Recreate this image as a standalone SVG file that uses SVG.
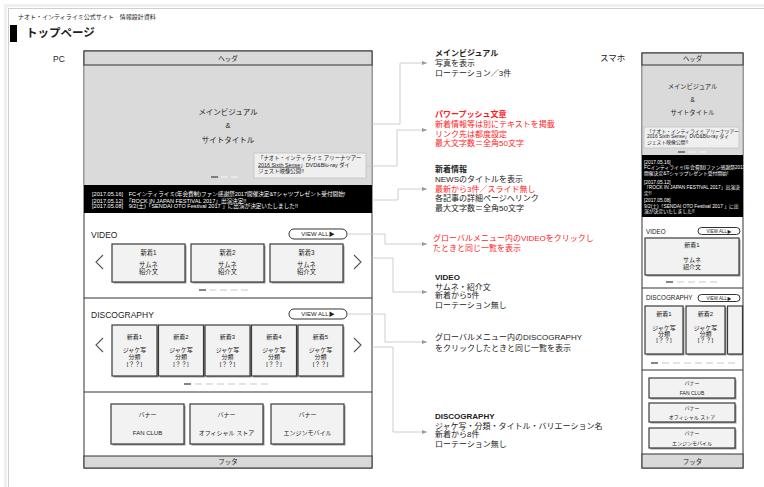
<svg xmlns="http://www.w3.org/2000/svg" width="764" height="487" viewBox="0 0 764 487">
<style>
text{font-family:"Liberation Sans","Noto Sans CJK JP",sans-serif;fill:#222}
.c{text-anchor:middle}
.w{fill:#fff}
.b{font-weight:bold}
.r{fill:#ff1a1a}
.frame{fill:#fff;stroke:#333;stroke-width:1}
.bar{fill:#d9d9d9;stroke:#333;stroke-width:1}
.hero{fill:#dadada}
.news{fill:#000}
.div{stroke:#333;stroke-width:1}
.card{fill:#f2f2f2;stroke:#3a3a3a;stroke-width:1.2}
.sh{fill:#9a9a9a}
.cap{fill:#efefef;stroke:#c4c4c4;stroke-width:0.8}
.pill{fill:#fff;stroke:#333;stroke-width:1}
.chev{fill:none;stroke:#555;stroke-width:1.1}
.dk{stroke:#666;stroke-width:1.6}
.lt{stroke:#dcdcdc;stroke-width:1.6}
.lt2{stroke:#ececec;stroke-width:1.6}
.con{fill:none;stroke:#c2c2c2;stroke-width:0.8}
</style>
<defs>
<marker id="arr" markerWidth="5" markerHeight="4" refX="5" refY="2" orient="auto" markerUnits="userSpaceOnUse">
<path d="M0,0 L5,2 L0,4 z" fill="#9a9a9a"/>
</marker>
</defs>

<g id="page">
<rect x="5.5" y="5.5" width="770" height="490" fill="none" stroke="#f0f0f0" stroke-width="3"/>
<rect x="8.5" y="8.5" width="770" height="490" fill="#fff" stroke="#cfcfcf" stroke-width="1"/>
</g>

<g id="title">
<text x="18" y="19" font-size="6">ナオト・インティライミ公式サイト　情報設計資料</text>
<rect x="10" y="25" width="7" height="17" fill="#000"/>
<text x="26" y="36.5" font-size="11.5" class="b">トップページ</text>
<text x="53" y="61.5" font-size="8.5">PC</text>
<text x="600" y="61" font-size="8.5">スマホ</text>
</g>

<!-- PC -->
<g id="pc-frame">
<rect x="84" y="51" width="288" height="417" class="frame"/>
</g>
<g id="pc-hero">
<rect x="84.5" y="65" width="287" height="120" class="hero"/>
<text x="228" y="114.5" font-size="7.5" class="c">メインビジュアル</text>
<text x="228" y="127.5" font-size="7.5" class="c">&amp;</text>
<text x="228" y="142.5" font-size="7.5" class="c">サイトタイトル</text>
<rect x="254" y="153" width="112" height="25" class="cap"/>
<text x="258" y="160" font-size="5.4">「ナオト・インティライミ アリーナツアー</text>
<text x="258" y="166.5" font-size="5.4"><tspan text-decoration="underline">2016 Sixth Sense</tspan>」DVD&amp;Blu-ray ダイ</text>
<text x="258" y="172.5" font-size="5.4">ジェスト映像公開!!</text>
<line x1="211" y1="177" x2="218" y2="177" class="dk"/>
<line x1="221" y1="177" x2="228" y2="177" class="lt2"/>
<line x1="231" y1="177" x2="238" y2="177" class="lt2"/>
</g>
<g id="pc-header">
<rect x="84" y="51" width="288" height="14" class="bar"/>
<text x="228" y="60.5" font-size="6.5" class="c">ヘッダ</text>
</g>
<g id="pc-news">
<rect x="84" y="185" width="288" height="28" class="news"/>
<text x="92" y="196" font-size="5.6" class="w">[2017.05.16]　FCインティライミ(年会費制)ファン感謝祭2017開催決定&amp;Tシャツプレゼント受付開始!</text>
<text x="92" y="202.5" font-size="5.6" class="w">[2017.05.12]　「ROCK IN JAPAN FESTIVAL 2017」出演決定!!</text>
<text x="92" y="208" font-size="5.6" class="w">[2017.05.08]　9/2(土)「SENDAI OTO Festival 2017 」に出演が決定いたしました!!</text>
</g>
<g id="pc-video">
<text x="91" y="238" font-size="8.5">VIDEO</text>
<rect x="289" y="229" width="58" height="10" rx="5" class="pill"/>
<text x="318" y="236.3" font-size="6" class="c">VIEW ALL▶</text>
<polyline points="103,255 96,262 103,269" class="chev"/>
<polyline points="354,255 361,262 354,269" class="chev"/>
<rect x="113.5" y="245.5" width="73" height="38" class="sh"/>
<rect x="112" y="244" width="73" height="38" class="card"/>
<rect x="192.5" y="245.5" width="73" height="38" class="sh"/>
<rect x="191" y="244" width="73" height="38" class="card"/>
<rect x="271.5" y="245.5" width="73" height="38" class="sh"/>
<rect x="270" y="244" width="73" height="38" class="card"/>
<g font-size="6.3">
<text x="148.5" y="254.5" class="c">新着1</text><text x="148.5" y="267" class="c">サムネ</text><text x="148.5" y="274" class="c">紹介文</text>
<text x="227.5" y="254.5" class="c">新着2</text><text x="227.5" y="267" class="c">サムネ</text><text x="227.5" y="274" class="c">紹介文</text>
<text x="306.5" y="254.5" class="c">新着3</text><text x="306.5" y="267" class="c">サムネ</text><text x="306.5" y="274" class="c">紹介文</text>
</g>
<line x1="199" y1="290" x2="206" y2="290" class="dk"/>
<line x1="209.5" y1="290" x2="216.5" y2="290" class="lt"/>
<line x1="220" y1="290" x2="227" y2="290" class="lt"/>
<line x1="230.5" y1="290" x2="237.5" y2="290" class="lt"/>
<line x1="241" y1="290" x2="248" y2="290" class="lt"/>
<line x1="84" y1="298" x2="372" y2="298" class="div"/>
</g>
<g id="pc-disco">
<text x="91" y="318" font-size="8.5">DISCOGRAPHY</text>
<rect x="289" y="309" width="58" height="10" rx="5" class="pill"/>
<text x="318" y="316.3" font-size="6" class="c">VIEW ALL▶</text>
<polyline points="103,338 96,345 103,352" class="chev"/>
<polyline points="354,338 361,345 354,352" class="chev"/>
<rect x="113.5" y="326.5" width="45" height="51" class="sh"/><rect x="112" y="325" width="45" height="51" class="card"/>
<rect x="160" y="326.5" width="45" height="51" class="sh"/><rect x="158.5" y="325" width="45" height="51" class="card"/>
<rect x="206.5" y="326.5" width="45" height="51" class="sh"/><rect x="205" y="325" width="45" height="51" class="card"/>
<rect x="253" y="326.5" width="45" height="51" class="sh"/><rect x="251.5" y="325" width="45" height="51" class="card"/>
<rect x="299.5" y="326.5" width="45" height="51" class="sh"/><rect x="298" y="325" width="45" height="51" class="card"/>
<g font-size="6">
<text x="134.5" y="339" class="c">新着1</text><text x="134.5" y="352" class="c">ジャケ写</text><text x="134.5" y="359" class="c">分類</text><text x="134.5" y="366" class="c">[？？]</text>
<text x="181" y="339" class="c">新着2</text><text x="181" y="352" class="c">ジャケ写</text><text x="181" y="359" class="c">分類</text><text x="181" y="366" class="c">[？？]</text>
<text x="227.5" y="339" class="c">新着3</text><text x="227.5" y="352" class="c">ジャケ写</text><text x="227.5" y="359" class="c">分類</text><text x="227.5" y="366" class="c">[？？]</text>
<text x="274" y="339" class="c">新着4</text><text x="274" y="352" class="c">ジャケ写</text><text x="274" y="359" class="c">分類</text><text x="274" y="366" class="c">[？？]</text>
<text x="320.5" y="339" class="c">新着5</text><text x="320.5" y="352" class="c">ジャケ写</text><text x="320.5" y="359" class="c">分類</text><text x="320.5" y="366" class="c">[？？]</text>
</g>
<line x1="184" y1="384" x2="191" y2="384" class="dk"/>
<line x1="195" y1="384" x2="202" y2="384" class="lt"/>
<line x1="206" y1="384" x2="213" y2="384" class="lt"/>
<line x1="217" y1="384" x2="224" y2="384" class="lt"/>
<line x1="228" y1="384" x2="235" y2="384" class="lt"/>
<line x1="239" y1="384" x2="246" y2="384" class="lt"/>
<line x1="250" y1="384" x2="257" y2="384" class="lt"/>
<line x1="261" y1="384" x2="268" y2="384" class="lt"/>
<line x1="84" y1="392" x2="372" y2="392" class="div"/>
</g>
<g id="pc-banner">
<rect x="112.5" y="405.5" width="73" height="40" class="sh"/><rect x="111" y="404" width="73" height="40" class="card"/>
<rect x="191.5" y="405.5" width="73" height="40" class="sh"/><rect x="190" y="404" width="73" height="40" class="card"/>
<rect x="272.5" y="405.5" width="73" height="40" class="sh"/><rect x="271" y="404" width="73" height="40" class="card"/>
<g font-size="6">
<text x="147.5" y="417" class="c">バナー</text><text x="147.5" y="435" class="c">FAN CLUB</text>
<text x="226.5" y="417" class="c">バナー</text><text x="226.5" y="435" class="c">オフィシャル ストア</text>
<text x="307.5" y="417" class="c">バナー</text><text x="307.5" y="435" class="c">エンジンモバイル</text>
</g>
</g>
<g id="pc-footer">
<rect x="84" y="456" width="288" height="12" class="bar"/>
<text x="228" y="464.2" font-size="6.5" class="c">フッタ</text>
</g>

<!-- Annotations -->
<g id="note-main" font-size="8">
<text x="435" y="56" class="b">メインビジュアル</text>
<text x="435" y="66">写真を表示</text>
<text x="435" y="76">ローテーション／3件</text>
</g>
<g id="note-push" font-size="8">
<text x="435" y="117" class="b r">パワープッシュ文章</text>
<text x="435" y="127" class="r">新着情報等は別にテキストを掲載</text>
<text x="435" y="136.5" class="r">リンク先は都度設定</text>
<text x="435" y="146" class="r">最大文字数＝全角50文字</text>
</g>
<g id="note-news" font-size="8">
<text x="435" y="172" class="b">新着情報</text>
<text x="435" y="182">NEWSのタイトルを表示</text>
<text x="435" y="191.5" class="r">最新から3件／スライド無し</text>
<text x="435" y="201">各記事の詳細ページへリンク</text>
<text x="435" y="210.5">最大文字数＝全角50文字</text>
</g>
<g id="note-video-all" font-size="8">
<text x="433" y="240.5" class="r">グローバルメニュー内のVIDEOをクリックし</text>
<text x="433" y="250.5" class="r">たときと同じ一覧を表示</text>
</g>
<g id="note-video" font-size="8">
<text x="435" y="280" class="b">VIDEO</text>
<text x="435" y="290">サムネ・紹介文</text>
<text x="435" y="298">新着から5件</text>
<text x="435" y="308">ローテーション無し</text>
</g>
<g id="note-disco-all" font-size="8">
<text x="435" y="340" >グローバルメニュー内のDISCOGRAPHY</text>
<text x="435" y="350.5">をクリックしたときと同じ一覧を表示</text>
</g>
<g id="note-disco" font-size="8">
<text x="435" y="419" class="b">DISCOGRAPHY</text>
<text x="435" y="429">ジャケ写・分類・タイトル・バリエーション名</text>
<text x="435" y="437">新着から8件</text>
<text x="435" y="447">ローテーション無し</text>
</g>

<g id="connectors">
<path d="M372,124 H400 V63 H427" class="con" marker-end="url(#arr)"/>
<path d="M366,166 H397 V130 H427" class="con" marker-end="url(#arr)"/>
<path d="M372,200 H398 V189 H427" class="con" marker-end="url(#arr)"/>
<path d="M347,234 H385 V244 H427" class="con" marker-end="url(#arr)"/>
<path d="M372,258 H393 V292 H427" class="con" marker-end="url(#arr)"/>
<path d="M347,314 H385 V342 H427" class="con" marker-end="url(#arr)"/>
<path d="M372,347 H393 V432 H427" class="con" marker-end="url(#arr)"/>
</g>

<!-- Smartphone -->
<g id="sp-frame">
<rect x="642" y="53" width="101" height="415" class="frame"/>
</g>
<g id="sp-hero">
<rect x="642.5" y="65" width="100" height="90" class="hero"/>
<text x="692.5" y="89" font-size="6.3" class="c">メインビジュアル</text>
<text x="692.5" y="102" font-size="6.3" class="c">&amp;</text>
<text x="692.5" y="115" font-size="6.3" class="c">サイトタイトル</text>
<rect x="644" y="127" width="95" height="21" class="cap"/>
<text x="647" y="132.7" font-size="4.8">「ナオト・インティライミ アリーナツアー</text>
<text x="647" y="138.4" font-size="4.8">2016 Sixth Sense」DVD&amp;Blu-ray ダイ</text>
<text x="647" y="144" font-size="4.8">ジェスト映像公開!!</text>
<line x1="678" y1="152" x2="685" y2="152" class="dk"/>
<line x1="688.5" y1="152" x2="695.5" y2="152" class="lt2"/>
<line x1="699" y1="152" x2="706" y2="152" class="lt2"/>
</g>
<g id="sp-header">
<rect x="642" y="53" width="101" height="12" class="bar"/>
<text x="692.5" y="61.3" font-size="6.3" class="c">ヘッダ</text>
</g>
<g id="sp-news">
<rect x="642" y="155" width="101" height="62" class="news"/>
<g font-size="4.8" class="w">
<text x="644" y="163.5" class="w">[2017.05.16]</text>
<text x="644" y="169" class="w">FCインティライミ(年会費制)ファン感謝祭2017</text>
<text x="644" y="174.5" class="w">開催決定&amp;Tシャツプレゼント受付開始!</text>
<text x="644" y="183.5" class="w">[2017.05.12]</text>
<text x="644" y="189" class="w">「ROCK IN JAPAN FESTIVAL 2017」出演決</text>
<text x="644" y="194.5" class="w">定!!</text>
<text x="644" y="202" class="w">[2017.05.08]</text>
<text x="644" y="207.5" class="w">9/2(土)「SENDAI OTO Festival 2017 」に出</text>
<text x="644" y="213" class="w">演が決定いたしました!!</text>
</g>
</g>
<g id="sp-video">
<text x="646" y="233.5" font-size="6.3">VIDEO</text>
<rect x="698" y="227.5" width="42" height="7" rx="3.5" class="pill"/>
<text x="719" y="232.8" font-size="4.5" class="c">VIEW ALL▶</text>
<rect x="646.5" y="239.5" width="94" height="37" class="sh"/>
<rect x="645" y="238" width="94" height="37" class="card"/>
<text x="692" y="247" font-size="6" class="c">新着1</text>
<text x="692" y="262" font-size="6" class="c">サムネ</text>
<text x="692" y="269" font-size="6" class="c">紹介文</text>
<line x1="666" y1="282" x2="673" y2="282" class="dk"/>
<line x1="677" y1="282" x2="684" y2="282" class="lt"/>
<line x1="688" y1="282" x2="695" y2="282" class="lt"/>
<line x1="699" y1="282" x2="706" y2="282" class="lt"/>
<line x1="710" y1="282" x2="717" y2="282" class="lt"/>
<line x1="642" y1="288" x2="743" y2="288" class="div"/>
</g>
<g id="sp-disco">
<text x="646" y="300" font-size="6.3">DISCOGRAPHY</text>
<rect x="698" y="294.5" width="42" height="7" rx="3.5" class="pill"/>
<text x="719" y="299.8" font-size="4.5" class="c">VIEW ALL▶</text>
<rect x="646.5" y="307.5" width="38" height="48" class="sh"/><rect x="645" y="306" width="38" height="48" class="card"/>
<rect x="687.5" y="307.5" width="39" height="48" class="sh"/><rect x="686" y="306" width="39" height="48" class="card"/>
<rect x="728.5" y="307.5" width="14" height="48" class="sh"/><rect x="727.5" y="306" width="15" height="48" class="card"/>
<g font-size="6">
<text x="664" y="316" class="c">新着1</text><text x="664" y="330" class="c">ジャケ写</text><text x="664" y="336" class="c">分類</text><text x="664" y="342" class="c">[？？]</text>
<text x="705.5" y="316" class="c">新着2</text><text x="705.5" y="330" class="c">ジャケ写</text><text x="705.5" y="336" class="c">分類</text><text x="705.5" y="342" class="c">[？？]</text>
</g>
<line x1="651" y1="363" x2="658" y2="363" class="dk"/>
<line x1="662" y1="363" x2="669" y2="363" class="lt"/>
<line x1="673" y1="363" x2="680" y2="363" class="lt"/>
<line x1="684" y1="363" x2="691" y2="363" class="lt"/>
<line x1="695" y1="363" x2="702" y2="363" class="lt"/>
<line x1="706" y1="363" x2="713" y2="363" class="lt"/>
<line x1="717" y1="363" x2="724" y2="363" class="lt"/>
<line x1="728" y1="363" x2="735" y2="363" class="lt"/>
<line x1="642" y1="370" x2="743" y2="370" class="div"/>
</g>
<g id="sp-banner">
<rect x="650.5" y="379.5" width="86" height="20" class="sh"/><rect x="649" y="378" width="86" height="20" class="card"/>
<rect x="650.5" y="404.5" width="86" height="19" class="sh"/><rect x="649" y="403" width="86" height="19" class="card"/>
<rect x="650.5" y="429.5" width="86" height="20" class="sh"/><rect x="649" y="428" width="86" height="20" class="card"/>
<g font-size="5">
<text x="692" y="385" class="c">バナー</text><text x="692" y="395" class="c">FAN CLUB</text>
<text x="692" y="410" class="c">バナー</text><text x="692" y="419" class="c">オフィシャル ストア</text>
<text x="692" y="435" class="c">バナー</text><text x="692" y="444.5" class="c">エンジンモバイル</text>
</g>
</g>
<g id="sp-footer">
<rect x="642" y="454" width="101" height="14" class="bar"/>
<text x="692.5" y="463.5" font-size="6.5" class="c">フッタ</text>
</g>
</svg>
